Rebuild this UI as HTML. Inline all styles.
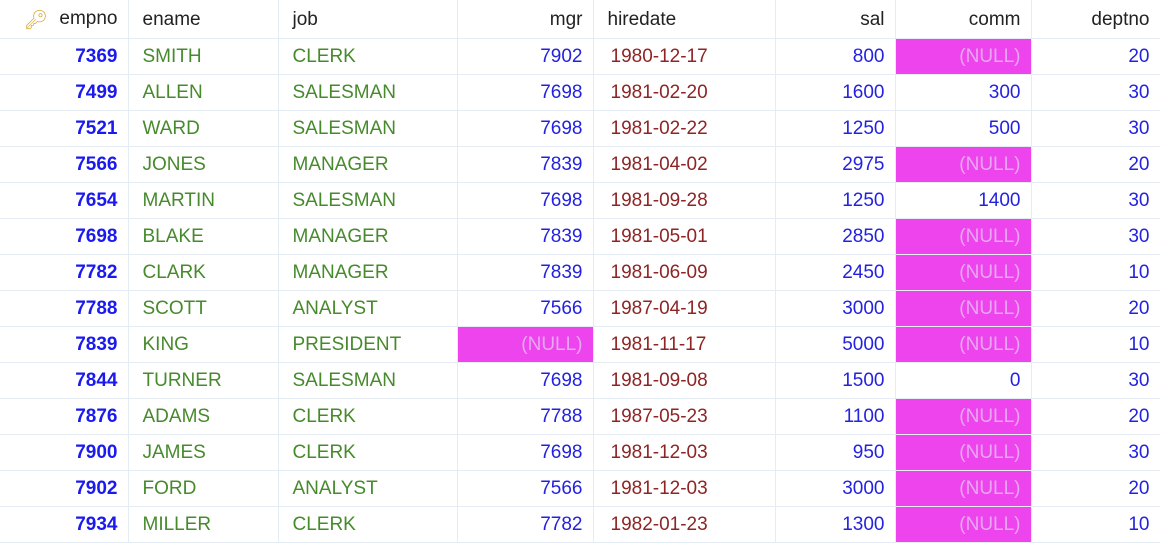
<!DOCTYPE html>
<html><head><meta charset="utf-8"><style>
body{margin:0;width:1160px;height:540px;background:#fff;overflow:hidden;font-family:Tahoma,"Liberation Sans","DejaVu Sans",sans-serif;font-size:19px}
table{border-collapse:collapse;table-layout:fixed;position:absolute;left:0;top:0;width:1160px}
td,th{height:35px;padding:2px 10px 0 10px;box-sizing:border-box;border-right:1px solid #e6ecf4;border-bottom:1px solid #e6ecf4;white-space:nowrap;font-weight:normal}
td{height:36px}
th{height:38px;color:#222;background:#fff}
.r{text-align:right}.l{text-align:left;padding-left:14px}
.e{color:#1a1af0;font-weight:bold}
.g{color:#468a2c}
.d{color:#8e2424}
.n{color:#2222e0}
.nul{background:#ee44ee;color:#e6a8f0}
</style></head><body>
<table>
<colgroup><col style="width:128px"><col style="width:150px"><col style="width:179px"><col style="width:136px"><col style="width:182px"><col style="width:120px"><col style="width:136px"><col style="width:129px"></colgroup>
<thead><tr>
<th class="r"><span style="color:#d9a532;float:left;margin-left:14px">&#x1F511;&#xFE0E;</span>empno</th>
<th class="l">ename</th>
<th class="l">job</th>
<th class="r">mgr</th>
<th class="l">hiredate</th>
<th class="r">sal</th>
<th class="r">comm</th>
<th class="r">deptno</th>
</tr></thead>
<tbody id="tb"></tbody></table>
<script>
const rows=[
[7369,"SMITH","CLERK",7902,"1980-12-17",800,null,20],
[7499,"ALLEN","SALESMAN",7698,"1981-02-20",1600,300,30],
[7521,"WARD","SALESMAN",7698,"1981-02-22",1250,500,30],
[7566,"JONES","MANAGER",7839,"1981-04-02",2975,null,20],
[7654,"MARTIN","SALESMAN",7698,"1981-09-28",1250,1400,30],
[7698,"BLAKE","MANAGER",7839,"1981-05-01",2850,null,30],
[7782,"CLARK","MANAGER",7839,"1981-06-09",2450,null,10],
[7788,"SCOTT","ANALYST",7566,"1987-04-19",3000,null,20],
[7839,"KING","PRESIDENT",null,"1981-11-17",5000,null,10],
[7844,"TURNER","SALESMAN",7698,"1981-09-08",1500,0,30],
[7876,"ADAMS","CLERK",7788,"1987-05-23",1100,null,20],
[7900,"JAMES","CLERK",7698,"1981-12-03",950,null,30],
[7902,"FORD","ANALYST",7566,"1981-12-03",3000,null,20],
[7934,"MILLER","CLERK",7782,"1982-01-23",1300,null,10]];
const cls=["r e","l g","l g","r n","l d","r n","r n","r n"];
const names=["empno","ename","job","mgr","hiredate","sal","comm","deptno"];
const tb=document.getElementById('tb');
rows.forEach((r,i)=>{
 const tr=document.createElement('tr');
 
 
 r.forEach((v,j)=>{
  const td=document.createElement('td');
  td.className=cls[j]+(v===null?' nul':'');
  if(j===4) td.style.paddingLeft='17px';
  td.textContent=v===null?'(NULL)':v;
  
  
  tr.appendChild(td);
 });
 tb.appendChild(tr);
});
</script>
</body></html>
